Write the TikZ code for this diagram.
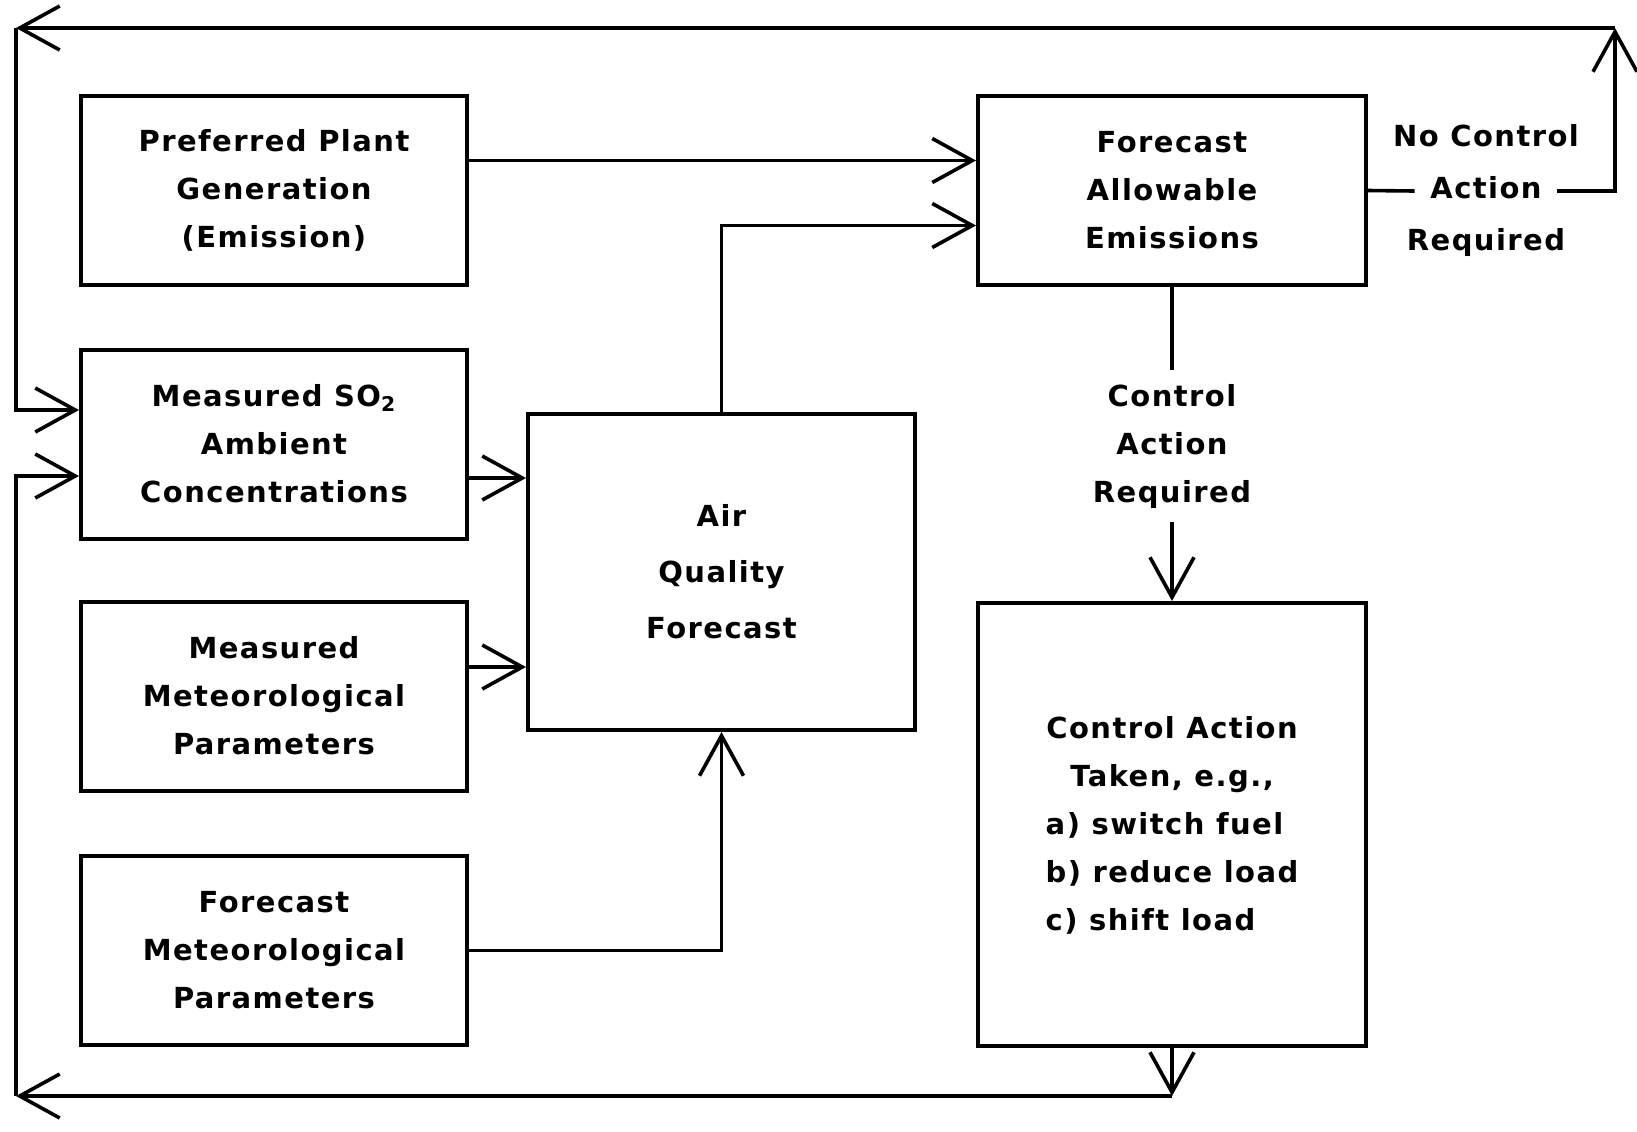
\documentclass[tikz,border=0pt]{standalone}
\usepackage{fontspec}
\setmainfont{DejaVu Sans}[LetterSpace=5]
\usetikzlibrary{arrows.meta,positioning}

\begin{document}
\begin{tikzpicture}
[x=0.5pt,y=-0.5pt,
  font=\bfseries\fontsize{14.5}{24}\selectfont,
  line width=1.8pt,
  >={Straight Barb[length=20pt,width=22pt]},
  box/.style={draw,line width=2pt,align=center,inner sep=0pt,
              minimum width=193pt,minimum height=94.5pt},
  lbl/.style={inner xsep=7pt,inner ysep=0pt,text height=10.5pt,text depth=3pt,
              minimum height=24pt}]
  \useasboundingbox (0,0) rectangle (1637,1131);
  % inputs on the left
  \node[box] (pref) at (274,190.5) {Preferred Plant\\Generation\\(Emission)};
  \node[box] (so2)  at (274,444)   {Measured SO\textsubscript{2}\\Ambient\\Concentrations};
  \node[box] (mmet) at (274,696)   {Measured\\Meteorological\\Parameters};
  \node[box] (fmet) at (274,950.5) {Forecast\\Meteorological\\Parameters};
  % forecast and decision
  \node[box,minimum width=193.5pt,minimum height=158pt] (aqf) at (721.5,572)
     {Air\\[4pt]Quality\\[4pt]Forecast};
  \node[box,minimum width=194pt] (fae) at (1172,190.5)
     {Forecast\\Allowable\\Emissions};
  \node[box,minimum width=194pt,minimum height=221.5pt] (cat) at (1172,824.5)
     {\begin{tabular}{@{}l@{}}
        \multicolumn{1}{@{}c@{}}{Control Action}\\
        \multicolumn{1}{@{}c@{}}{Taken, e.g.,}\\
        a) switch fuel\\
        b) reduce load\\
        c) shift load
      \end{tabular}};
  % branch labels
  \node[align=center,inner xsep=0pt,inner ysep=6pt] (ca) at (1172,446)
     {Control\\Action\\Required};
  \node[lbl] (nca) at (1486,191) {Action};
  \node[lbl,above=0pt of nca] (ncatop) {No Control};
  \node[lbl,below=0pt of nca] (ncabot) {Required};
  % corners of the feedback loops
  \coordinate (tr) at (1615,28);
  \coordinate (tl) at (16,28);
  \coordinate (bl) at (16,1096);

  \draw[->] ([yshift=15pt]pref.east) -- ([yshift=15pt]pref.east -| fae.west);
  \draw[->] (aqf.north) |- ([yshift=-17.5pt]fae.west);
  \draw[->] ([yshift=-17pt]so2.east) -- ([yshift=-17pt]so2.east -| aqf.west);
  \draw[->] ([yshift=14.5pt]mmet.east) -- ([yshift=14.5pt]mmet.east -| aqf.west);
  \draw[->] (fmet.east) -| (aqf.south);
  \draw (fae.south) -- (ca.north);
  \draw[->] (ca.south) -- (cat.north);
  \draw (fae.east) -- (nca.west);
  \draw[->] (nca.east) -| (tr);
  \draw[->] (tr) -- (tl);
  \draw[->] (tl) |- ([yshift=17pt]so2.west);
  \draw[->] (cat.south) -- (cat.south |- bl);
  \draw[->] (cat.south |- bl) -- (bl);
  \draw[->] (bl) |- ([yshift=-16pt]so2.west);
\end{tikzpicture}
\end{document}
